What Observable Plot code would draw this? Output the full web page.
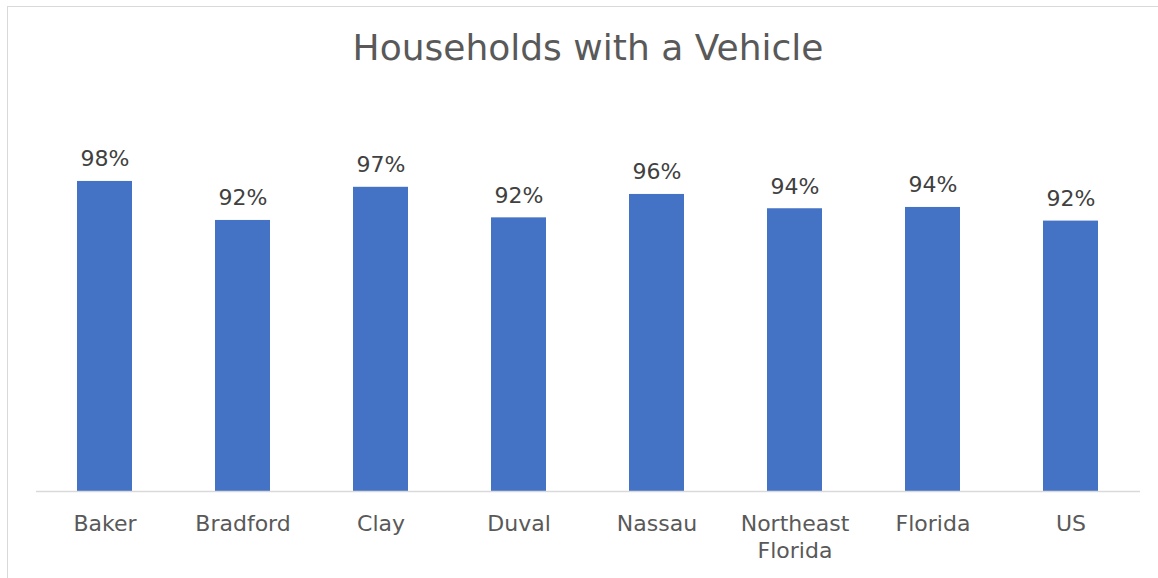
<!DOCTYPE html>
<html>
<head>
<meta charset="utf-8">
<script src="https://cdn.jsdelivr.net/npm/d3@7"></script>
<script src="https://cdn.jsdelivr.net/npm/@observablehq/plot@0.6"></script>
<style>
  html, body { margin: 0; padding: 0; background: #fff; }
  #wrap { position: relative; width: 1158px; height: 578px; overflow: hidden; background: #fff; }
  #frame { position: absolute; left: 7px; top: 6px; width: 1300px; height: 700px; border: 1px solid #d9d9d9; box-sizing: border-box; }
  #title { position: absolute; left: 0; width: 1176px; top: 28px; text-align: center; font-family: "DejaVu Sans", sans-serif; font-size: 36px; color: #595959; line-height: 40px; }
  #chart { position: absolute; left: 0; top: 0; }
</style>
</head>
<body>
<div id="wrap">
  <div id="frame"></div>
  <div id="title">Households with a Vehicle</div>
  <div id="chart"></div>
</div>
<script>
const categories = ["Baker", "Bradford", "Clay", "Duval", "Nassau", "Northeast Florida", "Florida", "US"];
const values = [0.977, 0.917, 0.968, 0.921, 0.957, 0.935, 0.937, 0.916];
const yDomain = [0.5, 1.0];

const data = categories.map((c, i) => ({category: c, value: values[i]}));
const fmt = d3.format(".0%");

const chart = Plot.plot({
  width: 1158,
  height: 578,
  marginTop: 166,
  marginBottom: 87,
  marginLeft: 36,
  marginRight: 18,
  style: { fontFamily: "DejaVu Sans, sans-serif", background: "transparent", overflow: "visible" },
  x: { domain: categories, paddingInner: 0.6, paddingOuter: 0.3, axis: null },
  y: { domain: yDomain, axis: null },
  marks: [
    Plot.barY(data, { x: "category", y1: yDomain[0], y2: "value", fill: "#4472c4" }),
    Plot.ruleY([yDomain[0]], { stroke: "#d9d9d9", strokeWidth: 1.5 }),
    Plot.text(data, { x: "category", y: "value", text: d => fmt(d.value), dy: -15, lineAnchor: "bottom", fontSize: 22, fill: "#404040" }),
    Plot.text(categories, { x: d => d, frameAnchor: "bottom", text: d => d.replace(" ", "\n"), lineAnchor: "top", dy: 21, fontSize: 22, lineHeight: 1.2, fill: "#595959" })
  ]
});
document.getElementById("chart").appendChild(chart);
</script>
</body>
</html>
